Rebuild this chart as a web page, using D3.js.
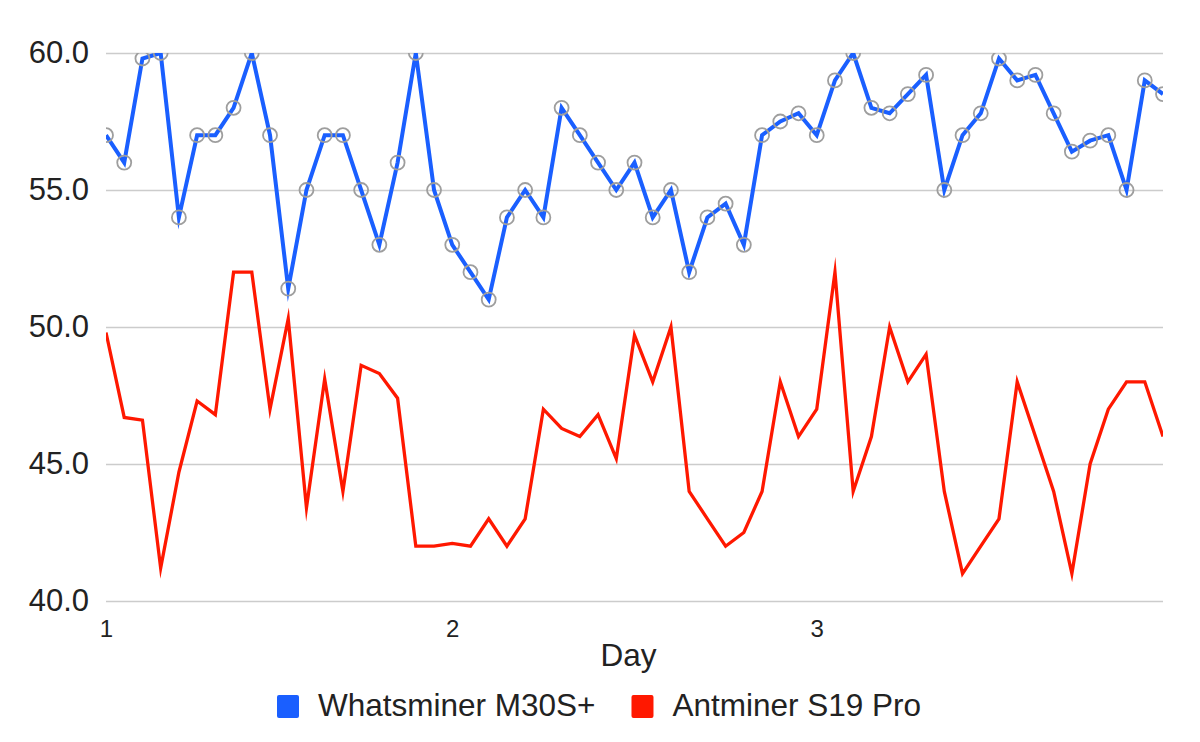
<!DOCTYPE html>
<html lang="en">
<head>
  <meta charset="UTF-8">
  <title>Whatsminer vs Antminer</title>
  <script src="https://d3js.org/d3.v7.min.js"></script>
  <style>
    body { margin: 0; background: #fff; font-family: "Liberation Sans", Arial, sans-serif; }
    .grid line { stroke: #cccccc; stroke-width: 1.5; }
    .grid text { font-size: 31px; fill: #222; }
    .xaxis text { font-size: 24px; fill: #222; }
    .legend text { font-size: 31.5px; fill: #222; }
  </style>
</head>
<body>
<svg id="chart" width="1200" height="742"></svg>
<script>
  // readings, one per step along the x axis
  const whatsminer = [57, 56, 59.8, 60, 54, 57, 57, 58, 60, 57, 51.4, 55, 57, 57, 55, 53, 56, 60, 55, 53,
                      52, 51, 54, 55, 54, 58, 57, 56, 55, 56, 54, 55, 52, 54, 54.5, 53, 57, 57.5, 57.8, 57,
                      59, 60, 58, 57.8, 58.5, 59.2, 55, 57, 57.8, 59.8, 59, 59.2, 57.8, 56.4, 56.8, 57, 55, 59, 58.5];
  const antminer   = [49.8, 46.7, 46.6, 41.2, 44.7, 47.3, 46.8, 52, 52, 47, 50.3, 43.4, 48.1, 44, 48.6, 48.3, 47.4, 42, 42, 42.1,
                      42, 43, 42, 43, 47, 46.3, 46, 46.8, 45.2, 49.7, 48, 50, 44, 43, 42, 42.5, 44, 48, 46, 47,
                      52, 44, 46, 50, 48, 49, 44, 41, 42, 43, 48, 46, 44, 41, 45, 47, 48, 48, 46];
  const seriesNames = ["Whatsminer M30S+", "Antminer S19 Pro"];
  const dayTickIndex = [0, 19, 39];
  const dayTickLabels = ["1", "2", "3"];
  const yTicks = [40, 45, 50, 55, 60];

  const BLUE = "#1a5fff", RED = "#ff1800";

  const svg = d3.select("#chart");
  const plotLeft = 106, plotRight = 1163, plotTop = 53, plotBottom = 601;

  const x = d3.scaleLinear().domain([0, whatsminer.length - 1]).range([plotLeft, plotRight]);
  const y = d3.scaleLinear().domain([40, 60]).range([plotBottom, plotTop]);

  // gridlines + y labels
  const grid = svg.append("g")
    .attr("class", "grid")
    .attr("transform", `translate(${plotLeft},0)`)
    .call(d3.axisLeft(y).tickValues(yTicks).tickSize(-(plotRight - plotLeft)).tickPadding(17)
      .tickFormat(d3.format(".1f")));
  grid.select(".domain").remove();

  // x axis labels
  const xa = svg.append("g")
    .attr("class", "xaxis")
    .attr("transform", `translate(0,${plotBottom})`)
    .call(d3.axisBottom(x).tickValues(dayTickIndex).tickSize(0).tickPadding(19)
      .tickFormat((d, i) => dayTickLabels[i]));
  xa.select(".domain").remove();

  svg.append("text")
    .attr("x", (plotLeft + plotRight) / 2 - 6)
    .attr("y", 666)
    .attr("text-anchor", "middle")
    .attr("font-size", "31.5px")
    .attr("fill", "#222")
    .text("Day");

  svg.append("clipPath").attr("id", "plot-clip")
    .append("rect")
    .attr("x", plotLeft).attr("y", plotTop)
    .attr("width", plotRight - plotLeft).attr("height", plotBottom - plotTop);

  const plot = svg.append("g").attr("clip-path", "url(#plot-clip)");

  const line = d3.line().x((d, i) => x(i)).y(d => y(d));

  plot.append("path")
    .datum(antminer)
    .attr("fill", "none")
    .attr("stroke", RED)
    .attr("stroke-width", 3.3)
    .attr("stroke-miterlimit", 12)
    .attr("d", line);

  plot.append("path")
    .datum(whatsminer)
    .attr("fill", "none")
    .attr("stroke", BLUE)
    .attr("stroke-width", 4)
    .attr("stroke-miterlimit", 12)
    .attr("d", line);

  plot.selectAll(".dot")
    .data(whatsminer)
    .join("circle")
    .attr("class", "dot")
    .attr("cx", (d, i) => x(i))
    .attr("cy", d => y(d))
    .attr("r", 7)
    .attr("fill", "none")
    .attr("stroke", "#9e9e9e")
    .attr("stroke-width", 1.8);

  // legend
  const legend = svg.append("g").attr("class", "legend");
  let lx = 277;
  [BLUE, RED].forEach((c, i) => {
    legend.append("rect")
      .attr("x", lx).attr("y", 695)
      .attr("width", 22).attr("height", 23)
      .attr("rx", 2)
      .attr("fill", c);
    const t = legend.append("text")
      .attr("x", lx + 41).attr("y", 716)
      .text(seriesNames[i]);
    lx += 41 + t.node().getComputedTextLength() + 36;
  });
</script>
</body>
</html>
